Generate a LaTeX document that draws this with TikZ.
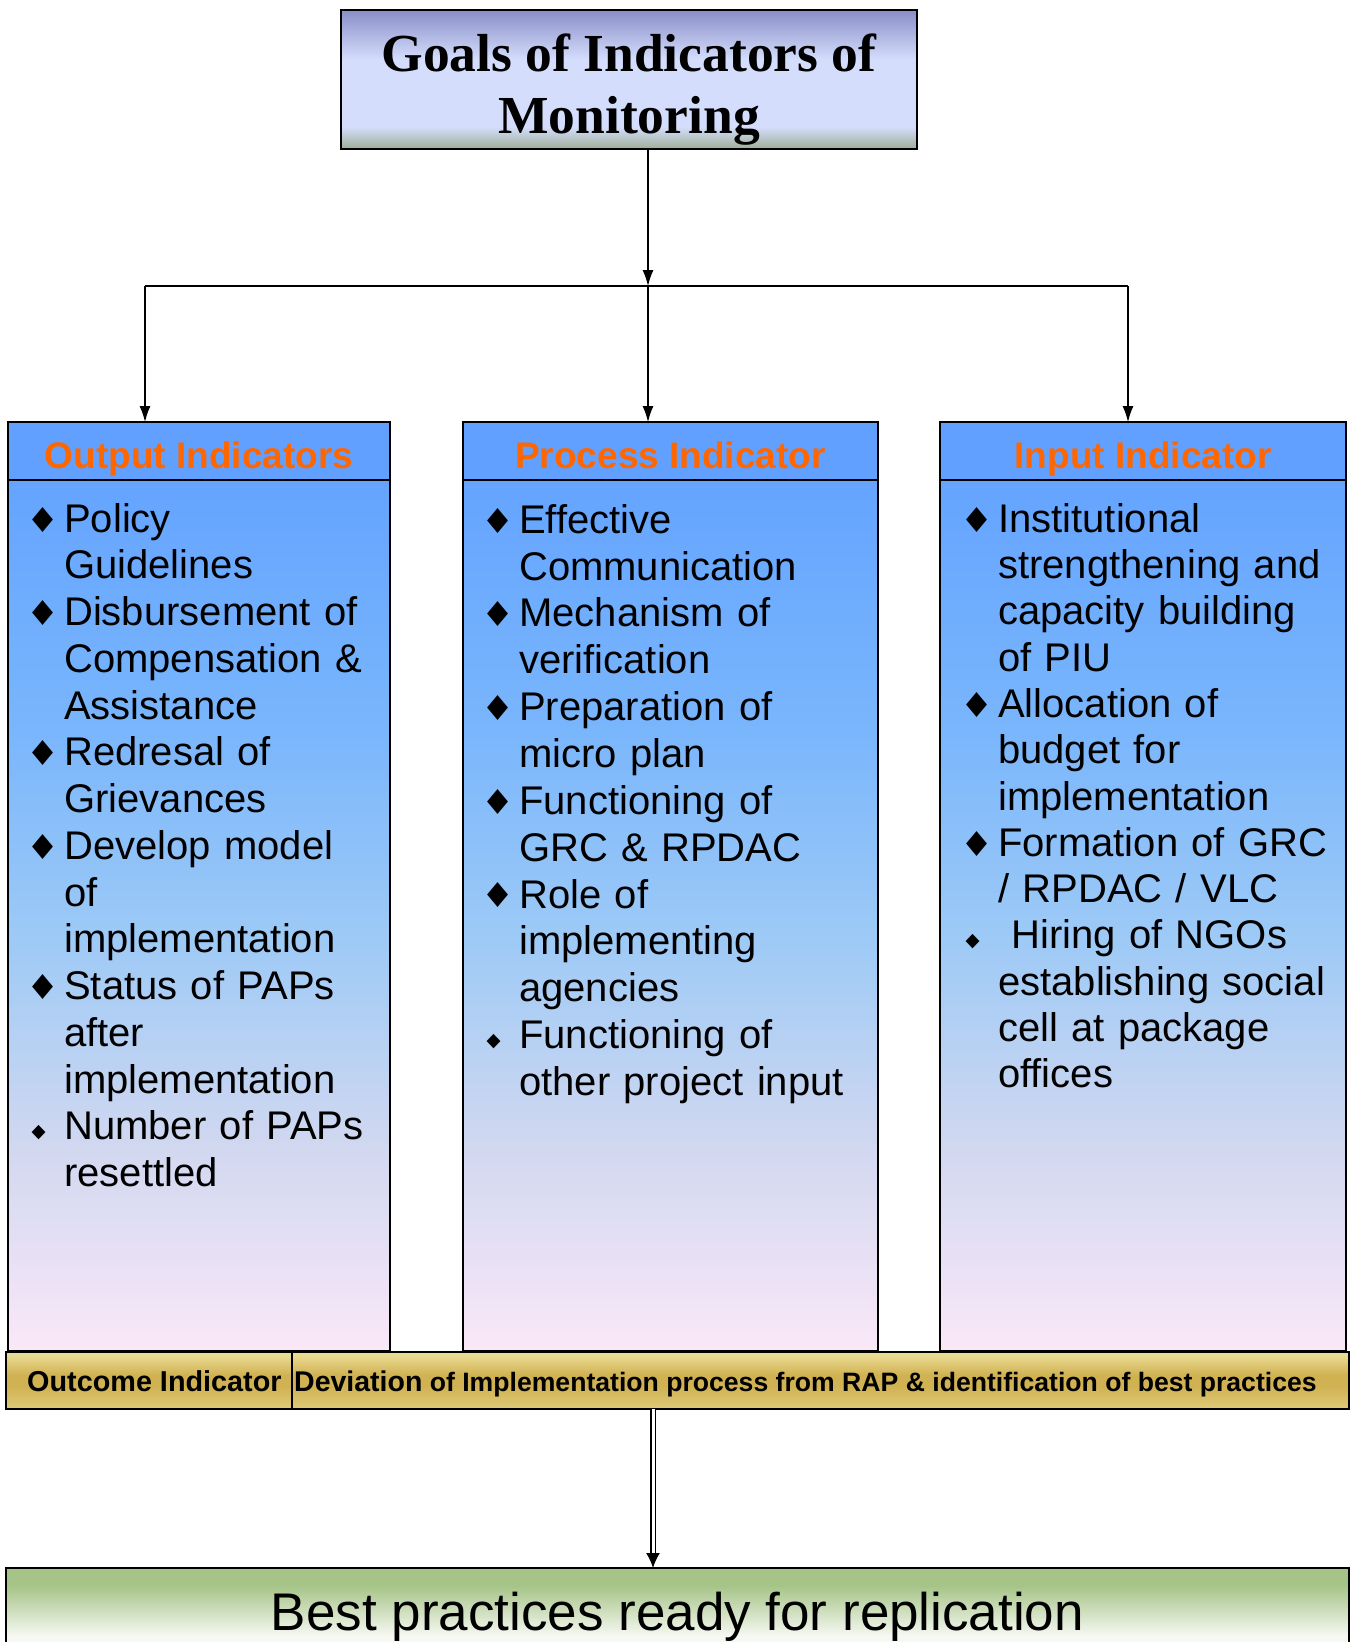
\documentclass[tikz,border=0pt]{standalone}
\usepackage{graphicx}
\usepackage{fontspec}
\setmainfont{Liberation Sans}
\newfontfamily\tnr{Liberation Serif}
\newfontfamily\symfont{DejaVu Sans}
\usetikzlibrary{arrows.meta}

\definecolor{tT}{RGB}{138,142,200}
\definecolor{tL}{RGB}{212,222,252}
\definecolor{tB}{RGB}{158,174,150}
\definecolor{hdr}{RGB}{98,160,255}
\definecolor{bA}{RGB}{100,164,255}
\definecolor{bB}{RGB}{122,182,252}
\definecolor{bC}{RGB}{158,202,246}
\definecolor{bD}{RGB}{210,216,240}
\definecolor{bE}{RGB}{250,232,248}
\definecolor{org}{RGB}{255,102,0}
\definecolor{gA}{RGB}{234,218,146}
\definecolor{gB}{RGB}{208,178,82}
\definecolor{gC}{RGB}{222,202,122}
\definecolor{grA}{RGB}{166,196,136}
\definecolor{grB}{RGB}{246,248,242}

\pgfdeclareverticalshading{titlesh}{100bp}{color(0bp)=(tB); color(25bp)=(tB); color(33bp)=(tL); color(57bp)=(tL); color(75bp)=(tT); color(100bp)=(tT)}
\pgfdeclareverticalshading{bodysh}{100bp}{color(0bp)=(bE); color(25bp)=(bE); color(36.5bp)=(bD); color(48.5bp)=(bC); color(60.5bp)=(bB); color(75bp)=(bA); color(100bp)=(bA)}
\pgfdeclareverticalshading{goldsh}{100bp}{color(0bp)=(gC); color(25bp)=(gC); color(45bp)=(gB); color(55bp)=(gB); color(72bp)=(gA); color(75bp)=(gA); color(100bp)=(gA)}
\pgfdeclareverticalshading{bestsh}{100bp}{color(0bp)=(grB); color(25bp)=(grB); color(40bp)=(grB); color(66bp)=(grA); color(75bp)=(grA); color(100bp)=(grA)}

\newcommand\bulL{\leavevmode\llap{\makebox[42pt]{\raisebox{\depth}{\resizebox*{21pt}{25pt}{\symfont ◆}}}}}
\newcommand\bulS{\leavevmode\llap{\makebox[51pt]{\raisebox{\depth}{\resizebox*{14pt}{14.5pt}{\symfont ◆}}}}}
\newcommand\firstln{\rule{0pt}{38pt}}

\tikzset{
  box/.style={draw=black, line width=1.6pt, inner sep=0pt, outer sep=0pt},
  arr/.style={-{Latex[length=16pt,width=11pt]}, line width=1.3pt},
  dblarr/.style={-{Latex[length=15pt,width=14pt]}, double=white, double distance=3pt, line width=1.5pt},
  itemtxt/.style={anchor=north west, inner sep=0pt, text width=345pt, align=left},
  hdrtxt/.style={anchor=base, text=org, inner sep=0pt, font=\bfseries\fontsize{37}{40}\selectfont},
}

\begin{document}
\begin{tikzpicture}[x=1pt,y=-1pt]
\useasboundingbox (0,0) rectangle (1354,1642);
\begin{scope}
\clip (0,0) rectangle (1354,1642);
\fill[white] (0,0) rectangle (1354,1642);

% title
\node[box, line width=2pt, shade, shading=titlesh, minimum width=576pt, minimum height=139pt] (title) at (629,79.5) {};
\node[anchor=north, inner sep=0pt, align=center, font=\tnr\bfseries\fontsize{53.5}{62}\selectfont] (titletxt) at (629,26) {\rule{0pt}{45pt}Goals of Indicators of\\Monitoring};

% junction
\coordinate (j) at (648,286);
\coordinate (jl) at (145,286);
\coordinate (jr) at (1128,286);

% columns
\node[box, fill=hdr, minimum width=382pt, minimum height=58pt, anchor=north west] (outh) at (8,422) {};
\node[box, shade, shading=bodysh, minimum width=382pt, minimum height=871pt, anchor=north west] (outb) at (8,480) {};
\node[box, fill=hdr, minimum width=415pt, minimum height=58pt, anchor=north west] (proch) at (463,422) {};
\node[box, shade, shading=bodysh, minimum width=415pt, minimum height=871pt, anchor=north west] (procb) at (463,480) {};
\node[box, fill=hdr, minimum width=406pt, minimum height=58pt, anchor=north west] (inh) at (940,422) {};
\node[box, shade, shading=bodysh, minimum width=406pt, minimum height=871pt, anchor=north west] (inb) at (940,480) {};

\node[hdrtxt] (outt) at (199,468) {Output Indicators};
\node[hdrtxt] (proct) at (670.5,468) {Process Indicator};
\node[hdrtxt] (int) at (1143,468) {Input Indicator};

\node[itemtxt, font=\fontsize{40}{46.75}\selectfont] (outl) at (64,494) {\firstln\bulL Policy\\
Guidelines\\
\bulL Disbursement of\\
Compensation \&\\
Assistance\\
\bulL Redresal of\\
Grievances\\
\bulL Develop model\\
of\\
implementation\\
\bulL Status of PAPs\\
after\\
implementation\\
\bulS Number of PAPs\\
resettled};

\node[itemtxt, font=\fontsize{40}{46.85}\selectfont] (procl) at (519,495) {\firstln\bulL Effective\\
Communication\\
\bulL Mechanism of\\
verification\\
\bulL Preparation of\\
micro plan\\
\bulL Functioning of\\
GRC \& RPDAC\\
\bulL Role of\\
implementing\\
agencies\\
\bulS Functioning of\\
other project input};

\node[itemtxt, font=\fontsize{40}{46.3}\selectfont] (inl) at (998,494) {\firstln\bulL Institutional\\
strengthening and\\
capacity building\\
of PIU\\
\bulL Allocation of\\
budget for\\
implementation\\
\bulL Formation of GRC\\
/ RPDAC / VLC\\
\bulS\ Hiring of NGOs\\
establishing social\\
cell at package\\
offices};

% connectors
\draw[arr] (title.south -| j) -- (j);
\draw[line width=1.8pt] (jl) -- (jr);
\draw[arr] (jl) -- (jl |- outh.north);
\draw[arr] (j) -- (j |- proch.north);
\draw[arr] (jr) -- (jr |- inh.north);

% outcome bar
\node[box, shade, shading=goldsh, minimum width=1343pt, minimum height=57pt, anchor=north west] (bar) at (6,1352) {};
\coordinate (dv) at (292,1380);
\draw[line width=1.3pt] (dv |- bar.north) -- (dv |- bar.south);
\node[anchor=base west, inner sep=0pt, font=\bfseries\fontsize{28.8}{30}\selectfont] (oc) at (27,1391) {Outcome Indicator};
\node[anchor=base west, inner sep=0pt, font=\bfseries\fontsize{26.6}{30}\selectfont] (dev) at (294,1391) {{\fontsize{28.5}{30}\selectfont Deviation} of Implementation process from RAP \& identification of best practices};

% best practices
\node[box, shade, shading=bestsh, minimum width=1343pt, minimum height=97pt, anchor=north west] (best) at (6,1568) {};
\node[anchor=base, inner sep=0pt, font=\fontsize{53}{60}\selectfont] (bt) at (677.5,1630) {Best practices ready for replication};

\coordinate (da) at (653,1480);
\draw[dblarr] (da |- bar.south) -- (da |- best.north);
\end{scope}
\end{tikzpicture}
\end{document}
